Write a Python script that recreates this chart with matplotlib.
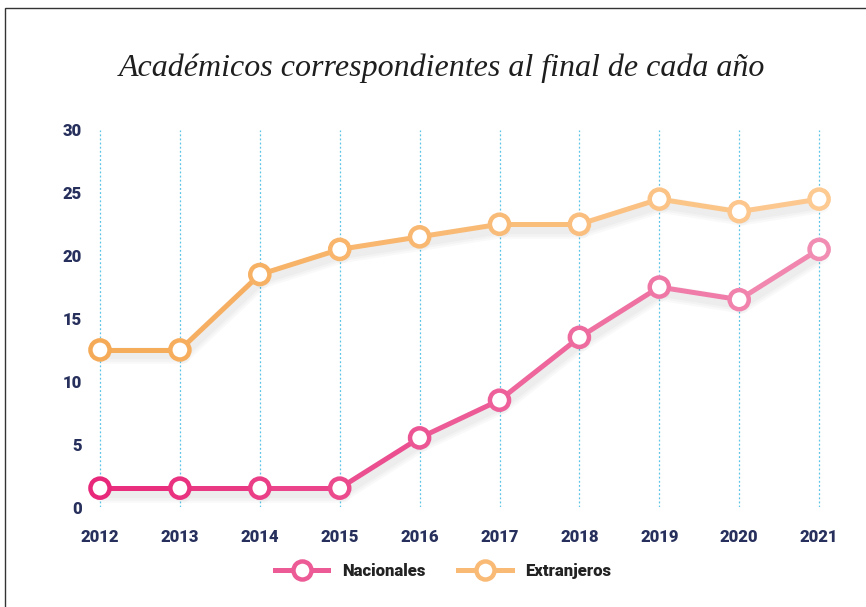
import numpy as np
import matplotlib
matplotlib.use('Agg')
import matplotlib.pyplot as plt
import matplotlib.patheffects as pe
from matplotlib.collections import LineCollection
from matplotlib.colors import to_rgb
from matplotlib.lines import Line2D

years = [2012, 2013, 2014, 2015, 2016, 2017, 2018, 2019, 2020, 2021]
nacionales = [1.5, 1.5, 1.5, 1.5, 5.5, 8.5, 13.5, 17.5, 16.5, 20.5]
extranjeros = [12.5, 12.5, 18.5, 20.5, 21.5, 22.5, 22.5, 24.5, 23.5, 24.5]
y_ticks = [0, 5, 10, 15, 20, 25, 30]

title = "Académicos correspondientes al final de cada año"
labels = ["Nacionales", "Extranjeros"]
colors_start = ["#e8287a", "#f5aa58"]
colors_end = ["#f18db2", "#fdca92"]

tick_color = "#27305c"
grid_color = "#5cc4e6"


def blend(c0, c1, t):
    a = np.array(to_rgb(c0))
    b = np.array(to_rgb(c1))
    return tuple(a + (b - a) * t)


def gradient_series(ax, x, y, c0, c1):
    x = np.asarray(x, dtype=float)
    y = np.asarray(y, dtype=float)
    n = len(x)
    segs = [[(x[i], y[i]), (x[i + 1], y[i + 1])] for i in range(n - 1)]
    seg_cols = [blend(c0, c1, (i + 0.5) / (n - 1)) for i in range(n - 1)]
    lc = LineCollection(segs, colors=seg_cols, linewidths=3.6,
                        capstyle='round', joinstyle='round', zorder=3,
                        clip_on=False)
    # soft drop shadow, built from a few faint layers
    effects = [pe.SimpleLineShadow(offset=(1.5, -4), shadow_color='#000000',
                                   alpha=0.025, linewidth=w) for w in (12, 9, 6)]
    lc.set_path_effects(effects + [pe.Normal()])
    ax.add_collection(lc)
    pt_cols = [blend(c0, c1, i / (n - 1)) for i in range(n)]
    ax.scatter(x, y, s=190, facecolors='white', edgecolors=pt_cols,
               linewidths=3.2, zorder=4, clip_on=False)


fig = plt.figure(figsize=(8.66, 6.07), dpi=100)
ax = fig.add_axes([90 / 866, 100 / 607, 770 / 866, 377 / 607])

ax.set_xlim(2012 - 10 / 79.9, 2012 + 760 / 79.9)
ax.set_ylim(0, 30)

for yr in years:
    ax.axvline(yr, color=grid_color, linestyle=(0, (1.5, 1.8)), linewidth=0.9, zorder=1)

gradient_series(ax, years, nacionales, colors_start[0], colors_end[0])
gradient_series(ax, years, extranjeros, colors_start[1], colors_end[1])

ax.set_xticks(years)
ax.set_xticklabels([str(y) for y in years])
ax.set_yticks(y_ticks)
for lab in ax.get_xticklabels() + ax.get_yticklabels():
    lab.set_fontfamily('Roboto')
    lab.set_fontweight('black')
    lab.set_fontsize(12)
    lab.set_color(tick_color)
ax.tick_params(axis='x', length=0, pad=16)
ax.tick_params(axis='y', length=0, pad=6)
for s in ax.spines.values():
    s.set_visible(False)

fig.text(442 / 866, 1 - 68 / 607, title, ha='center', va='center',
         fontfamily='Liberation Serif', fontstyle='italic', fontsize=23, color='#1e1e1e')

# legend
handles = []
for i in range(2):
    mid = blend(colors_start[i], colors_end[i], 0.5)
    handles.append(Line2D([0], [0], color=mid, linewidth=3.6, marker='o',
                          markersize=13, markerfacecolor='white',
                          markeredgecolor=mid, markeredgewidth=3.2))
leg = fig.legend(handles, labels, loc='center', bbox_to_anchor=(443 / 866, 1 - 571 / 607),
                 ncol=2, frameon=False, handlelength=3.2, columnspacing=2.0,
                 handletextpad=0.8, prop={'family': 'Roboto', 'weight': 'black', 'size': 12})
for t in leg.get_texts():
    t.set_color('#222222')

# outer frame
fig.add_artist(plt.Rectangle((5 / 866, -0.05), 1.2, 1 - 8 / 607 + 0.05,
                             transform=fig.transFigure, fill=False,
                             edgecolor='#333333', linewidth=1.0))

fig.savefig("out.png", dpi=100)
